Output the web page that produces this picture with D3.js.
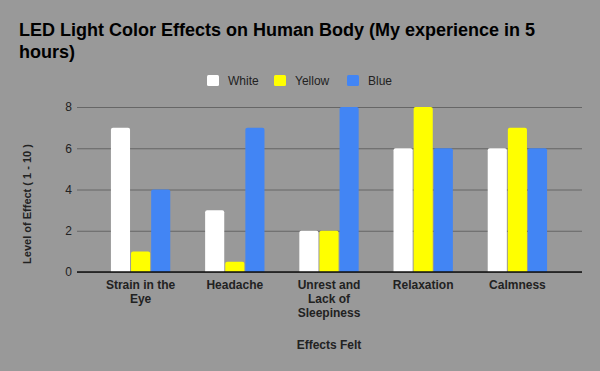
<!DOCTYPE html>
<html>
<head>
<meta charset="utf-8">
<script src="https://cdn.jsdelivr.net/npm/d3@7"></script>
<style>
  body { margin: 0; background: #999999; }
  svg { display: block; font-family: "Liberation Sans", Arial, sans-serif; }
</style>
</head>
<body>
<svg width="600" height="371"></svg>
<script>
"use strict";

const categories = [
  ["Strain in the", "Eye"],
  ["Headache"],
  ["Unrest and", "Lack of", "Sleepiness"],
  ["Relaxation"],
  ["Calmness"]
];
const seriesNames = ["White", "Yellow", "Blue"];
const seriesColors = ["#ffffff", "#ffff00", "#4285f4"];
const whiteValues = [7, 3, 2, 6, 6];
const yellowValues = [1, 0.5, 2, 8, 7];
const blueValues = [4, 7, 8, 6, 6];
const yTicks = [0, 2, 4, 6, 8];

const series = [whiteValues, yellowValues, blueValues];
const svg = d3.select("svg");

// 카테고리 밴드
const x0 = d3.scaleBand().domain(d3.range(categories.length)).range([93.5, 564.5]).paddingInner(0.37).paddingOuter(0.185);
const x1 = d3.scaleBand().domain(d3.range(series.length)).range([0, x0.bandwidth()]).paddingInner(0.05);
const y = d3.scaleLinear().domain([0, 8]).range([272, 107]);

// grid lines
const yAxis = d3.axisLeft(y).tickValues(yTicks).tickSize(-505).tickPadding(6);
const gy = svg.append("g").attr("transform", "translate(77,0)").call(yAxis);
gy.select(".domain").remove();
gy.selectAll(".tick line").attr("stroke", "#666666").attr("stroke-width", 1);
gy.selectAll(".tick text").attr("font-size", 12).attr("fill", "#222222").attr("x", -5);

// bars with rounded tops
function barPath(x, yTop, w, h) {
  const r = Math.min(2, h);
  return `M${x},${yTop + h}V${yTop + r}Q${x},${yTop} ${x + r},${yTop}H${x + w - r}Q${x + w},${yTop} ${x + w},${yTop + r}V${yTop + h}Z`;
}

series.forEach((vals, si) => {
  svg.append("g")
    .selectAll("path")
    .data(vals)
    .enter()
    .append("path")
    .attr("fill", seriesColors[si])
    .attr("d", (d, i) => barPath(x0(i) + x1(si), y(d), x1.bandwidth(), y(0) - y(d)));
});

// baseline
svg.append("line")
  .attr("x1", 77).attr("x2", 582)
  .attr("y1", y(0)).attr("y2", y(0))
  .attr("stroke", "#111111").attr("stroke-width", 1.3);

// x labels
const xl = svg.append("g")
  .selectAll("text")
  .data(categories)
  .enter()
  .append("text")
  .attr("x", (d, i) => x0(i) + x0.bandwidth() / 2)
  .attr("y", 289)
  .attr("text-anchor", "middle")
  .attr("font-size", 12)
  .attr("font-weight", "bold")
  .attr("fill", "#222222");
xl.selectAll("tspan")
  .data((d) => d)
  .enter()
  .append("tspan")
  .attr("x", function () { return d3.select(this.parentNode).attr("x"); })
  .attr("dy", (d, i) => (i === 0 ? 0 : 14))
  .text((d) => d);

// axis titles
svg.append("text")
  .attr("x", 329).attr("y", 349)
  .attr("text-anchor", "middle")
  .attr("font-size", 12).attr("font-weight", "bold").attr("fill", "#222222")
  .text("Effects Felt");

svg.append("text")
  .attr("transform", "translate(31,204) rotate(-90)")
  .attr("text-anchor", "middle")
  .attr("font-size", 11).attr("font-weight", "bold").attr("fill", "#222222")
  .text("Level of Effect ( 1 - 10 )");

// title
const title = svg.append("text")
  .attr("x", 19).attr("y", 36)
  .attr("font-size", 18).attr("font-weight", "bold").attr("fill", "#000000");
title.append("tspan").attr("x", 19).text("LED Light Color Effects on Human Body (My experience in 5");
title.append("tspan").attr("x", 19).attr("dy", 22).text("hours)");

// legend
const legendX = [207, 274, 347];
const lg = svg.append("g")
  .selectAll("g")
  .data(seriesNames)
  .enter()
  .append("g")
  .attr("transform", (d, i) => `translate(${legendX[i]},75)`);
lg.append("rect")
  .attr("width", 12).attr("height", 11).attr("rx", 1.5)
  .attr("fill", (d, i) => seriesColors[i]);
lg.append("text")
  .attr("x", 21).attr("y", 9.5)
  .attr("font-size", 12).attr("fill", "#222222")
  .text((d) => d);
</script>
</body>
</html>
